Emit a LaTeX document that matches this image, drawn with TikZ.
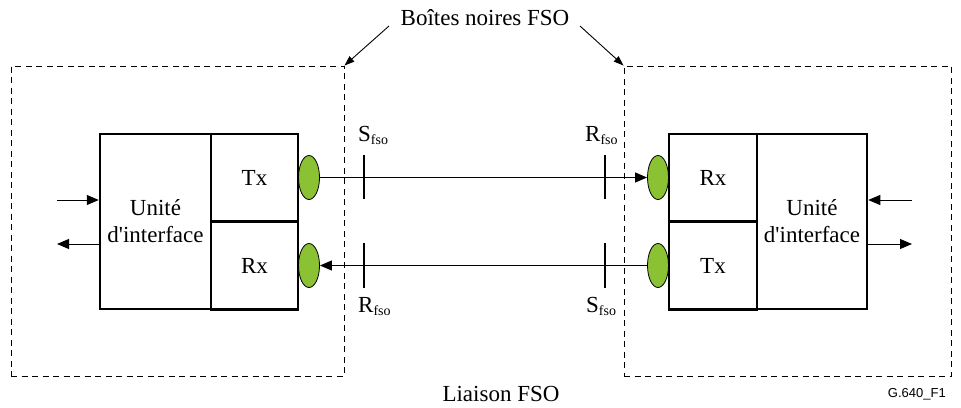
\documentclass[tikz,border=0pt]{standalone}
\usepackage{fontspec}
\setmainfont{Liberation Serif}
\newfontfamily\sansf{Liberation Sans}
\usetikzlibrary{shapes.geometric,arrows.meta}
\definecolor{lensgreen}{RGB}{138,194,52}
\newcommand{\subfso}{\raisebox{-0.35ex}{\fontsize{14}{14}\selectfont fso}}
\begin{document}
\begin{tikzpicture}[x=1pt,y=-1pt,
  blk/.style={draw, line width=2.5pt, inner sep=0pt, align=center, font=\fontsize{23}{27}\selectfont},
  lens/.style={ellipse, draw, fill=lensgreen, line width=0.8pt, minimum width=21pt, minimum height=44pt, inner sep=0pt},
  dbox/.style={draw, line width=0.9pt, dash pattern=on 6pt off 4.5pt, inner sep=0pt},
  link/.style={line width=0.9pt, -{Triangle[length=12pt,width=10pt]}},
  tickline/.style={line width=1.8pt},
  lbl/.style={font=\fontsize{23}{27}\selectfont, inner sep=0pt},
  callout/.style={line width=0.9pt, -{Triangle[length=10pt,width=7pt]}}
]
\useasboundingbox (0,0) rectangle (961,407);
% dashed black boxes
\node[dbox, minimum width=333pt, minimum height=310pt] (bbL) at (177.5,221) {};
\node[dbox, minimum width=327pt, minimum height=310pt] (bbR) at (787.5,221) {};
% left equipment
\node[blk, minimum width=111pt, minimum height=175pt] (ifL) at (155.5,221.5) {Unité\\d\textquotesingle interface};
\node[blk, minimum width=87pt, minimum height=87pt] (txL) at (254.5,177.5) {Tx};
\node[blk, minimum width=87pt, minimum height=88pt] (rxL) at (254.5,265.5) {Rx};
% right equipment
\node[blk, minimum width=88pt, minimum height=87pt] (rxR) at (713,177.5) {Rx};
\node[blk, minimum width=88pt, minimum height=88pt] (txR) at (713,265.5) {Tx};
\node[blk, minimum width=110pt, minimum height=175pt] (ifR) at (812,221.5) {Unité\\d\textquotesingle interface};
% lenses
\node[lens] (lL1) at (309,177.5) {};
\node[lens] (lL2) at (309,265.5) {};
\node[lens] (lR1) at (658,177.5) {};
\node[lens] (lR2) at (658,265.5) {};
% optical links
\draw[link] (lL1) -- (lR1);
\draw[link] (lR2) -- (lL2);
% reference points ticks
\coordinate (t1a) at (364,155); \coordinate (t1b) at (364,199);
\coordinate (t2a) at (364,243); \coordinate (t2b) at (364,288);
\coordinate (t3a) at (605,155); \coordinate (t3b) at (605,199);
\coordinate (t4a) at (605,243); \coordinate (t4b) at (605,288);
\draw[tickline] (t1a) -- (t1b);
\draw[tickline] (t2a) -- (t2b);
\draw[tickline] (t3a) -- (t3b);
\draw[tickline] (t4a) -- (t4b);
% reference point labels
\node[lbl, anchor=base west] (sL) at (358,141) {S\subfso};
\node[lbl, anchor=base west] (rR) at (585,141) {R\subfso};
\node[lbl, anchor=base west] (rL) at (358,312) {R\subfso};
\node[lbl, anchor=base west] (sR) at (586,312) {S\subfso};
% side arrows
\coordinate (inL) at (57,200);
\coordinate (outL) at (57,244);
\coordinate (inR) at (912,200);
\coordinate (outR) at (912,244);
\draw[link] (inL) -- (ifL.west |- inL);
\draw[link] (ifL.west |- outL) -- (outL);
\draw[link] (inR) -- (ifR.east |- inR);
\draw[link] (ifR.east |- outR) -- (outR);
% title and callouts
\node[lbl, anchor=base] (title) at (485,25) {Boîtes noires FSO};
\coordinate (cA) at (389,26);
\coordinate (cB) at (580,26);
\draw[callout] (cA) -- (bbL.north east);
\draw[callout] (cB) -- (bbR.north west);
% bottom labels
\node[lbl, anchor=base] (liaison) at (501,401) {Liaison FSO};
\node[font=\sansf\fontsize{13}{15}\selectfont, anchor=base east, inner sep=0pt] (fig) at (946,397) {G.640\_F1};
\end{tikzpicture}
\end{document}
